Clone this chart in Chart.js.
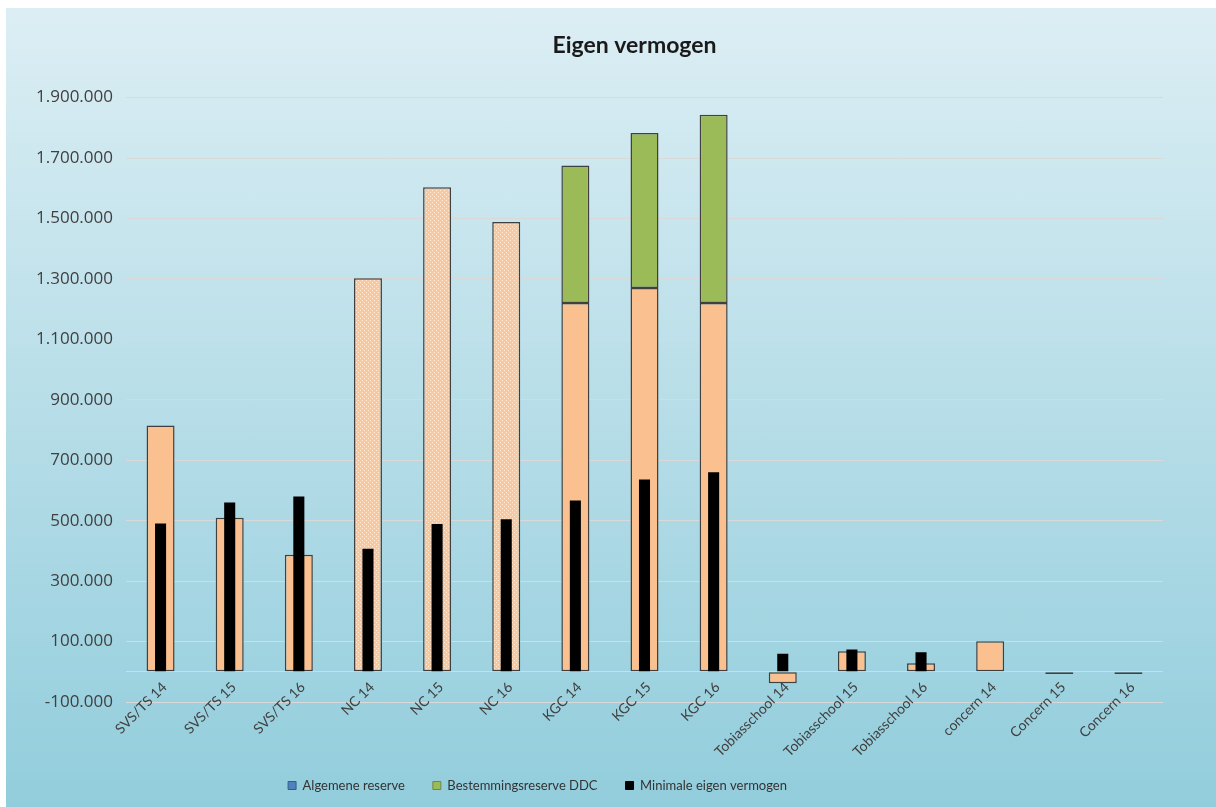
<!DOCTYPE html>
<html><head><meta charset="utf-8">
<script src="https://cdn.jsdelivr.net/npm/chart.js@4.4.1/dist/chart.umd.min.js"></script>
<style>
html,body{margin:0;padding:0;background:#fff;}
#wrap{position:absolute;left:6px;top:8px;width:1210px;height:799px;background:linear-gradient(to bottom,#DCEEF4 0%,#92CDDC 100%);}
canvas{display:block;}
</style></head><body>
<div id="wrap"><canvas id="c" width="1210" height="799"></canvas></div>
<script>
// ---- data ----
const categories = ['SVS/TS 14','SVS/TS 15','SVS/TS 16','NC 14','NC 15','NC 16','KGC 14','KGC 15','KGC 16','Tobiasschool 14','Tobiasschool 15','Tobiasschool 16','concern 14','Concern 15','Concern 16'];
const algemeneReserve = [815000, 510000, 387000, 1302000, 1603000, 1488000, 1220000, 1270000, 1220000, -38000, 68000, 28000, 101000, -7000, -7000];
const bestemmingsreserveDDC = [null, null, null, null, null, null, 455000, 513000, 623000, null, null, null, null, null, null];
const minimaleEigenVermogen = [491000, 560000, 580000, 407000, 489000, 505000, 567000, 636000, 660000, 60000, 74000, 65000, null, null, null];
const yTickValues = [-100000, 100000, 300000, 500000, 700000, 900000, 1100000, 1300000, 1500000, 1700000, 1900000];
const zeroLine = 0;
const patternedCategories = ['NC 14', 'NC 15', 'NC 16'];

// ---- styles ----
const ORANGE = '#FAC090';
const GREEN = '#9BBB59';
const legendSwatches = [
  {fill: '#4F81BD', stroke: '#385D8A'},
  {fill: '#9BBB59', stroke: '#71893F'},
  {fill: '#000000', stroke: '#000000'}
];

function makePattern() {
  const pc = document.createElement('canvas');
  pc.width = 4; pc.height = 4;
  const p = pc.getContext('2d');
  p.fillStyle = '#F9C89C';
  p.fillRect(0, 0, 4, 4);
  p.fillStyle = '#FFEBD8';
  p.fillRect(0, 0, 1, 1);
  p.fillRect(2, 2, 1, 1);
  return document.getElementById('c').getContext('2d').createPattern(pc, 'repeat');
}
const dotPattern = makePattern();

function fmt(v) {
  const s = Math.abs(v).toString().replace(/\B(?=(\d{3})+(?!\d))/g, '.');
  return (v < 0 ? '-' : '') + s;
}

const legendShift = -47;
const titleShift = 50;
const shiftBoxes = {
  id: 'shiftBoxes',
  afterLayout(chart) {
    if (chart.legend) { chart.legend.left += legendShift; chart.legend.right += legendShift; }
    if (chart.titleBlock) { chart.titleBlock.left += titleShift; chart.titleBlock.right += titleShift; }
  }
};

new Chart(document.getElementById('c'), {
  type: 'bar',
  data: {
    labels: categories,
    datasets: [
      {
        label: 'Algemene reserve',
        data: algemeneReserve,
        backgroundColor: (ctx) => (ctx.dataIndex !== undefined && patternedCategories.includes(categories[ctx.dataIndex])) ? dotPattern : ORANGE,
        borderColor: '#404040',
        borderWidth: 1.5,
        borderSkipped: false,
        stack: 'reserve',
        order: 2,
        grouped: false,
        barPercentage: 0.405,
        categoryPercentage: 1
      },
      {
        label: 'Bestemmingsreserve DDC',
        data: bestemmingsreserveDDC,
        backgroundColor: GREEN,
        borderColor: '#404040',
        borderWidth: 1.5,
        borderSkipped: false,
        stack: 'reserve',
        order: 3,
        grouped: false,
        barPercentage: 0.405,
        categoryPercentage: 1
      },
      {
        label: 'Minimale eigen vermogen',
        data: minimaleEigenVermogen,
        backgroundColor: '#000000',
        borderWidth: 0,
        stack: 'min',
        order: 1,
        grouped: false,
        barPercentage: 0.16,
        categoryPercentage: 1
      }
    ]
  },
  options: {
    responsive: false,
    animation: false,
    layout: {padding: {left: 0, right: 53, top: 0, bottom: 5}},
    scales: {
      x: {
        position: {y: 0},
        stacked: true,
        grid: {display: false, drawTicks: false},
        border: {display: false},
        ticks: {autoSkip: false, minRotation: 45, maxRotation: 45, padding: 7, labelOffset: 4,
                font: {family: 'Lato', size: 14}, color: '#404040'}
      },
      y: {
        stacked: true,
        min: yTickValues[0],
        max: yTickValues[yTickValues.length - 1],
        afterBuildTicks: (s) => {
          s.ticks = yTickValues.concat([zeroLine]).sort((a, b) => a - b).map(v => ({value: v}));
        },
        ticks: {callback: (v) => v === zeroLine ? '' : fmt(v),
                font: {family: 'Open Sans', size: 17}, color: '#404040', padding: 13},
        grid: {color: '#D9D9D9', lineWidth: 1, drawTicks: false},
        border: {display: false},
        afterFit: (s) => { s.width = 120; }
      }
    },
    plugins: {
      tooltip: {enabled: false},
      title: {
        display: true,
        text: 'Eigen vermogen',
        font: {family: 'Lato', size: 23, weight: 'bold'},
        color: '#1a1a1a',
        padding: {top: 24, bottom: 38}
      },
      legend: {
        position: 'bottom',
        title: {display: true, text: '', font: {size: 10}, padding: {top: 37, bottom: 0}},
        labels: {
          boxWidth: 8, boxHeight: 8, padding: 28,
          font: {family: 'Lato', size: 13}, color: '#333333',
          generateLabels(chart) {
            const items = Chart.defaults.plugins.legend.labels.generateLabels(chart);
            items.sort((a, b) => a.datasetIndex - b.datasetIndex);
            items.forEach(it => {
              const s = legendSwatches[it.datasetIndex];
              it.fillStyle = s.fill; it.strokeStyle = s.stroke; it.lineWidth = 1;
            });
            return items;
          }
        }
      }
    }
  },
  plugins: [shiftBoxes]
});
</script>
</body></html>
